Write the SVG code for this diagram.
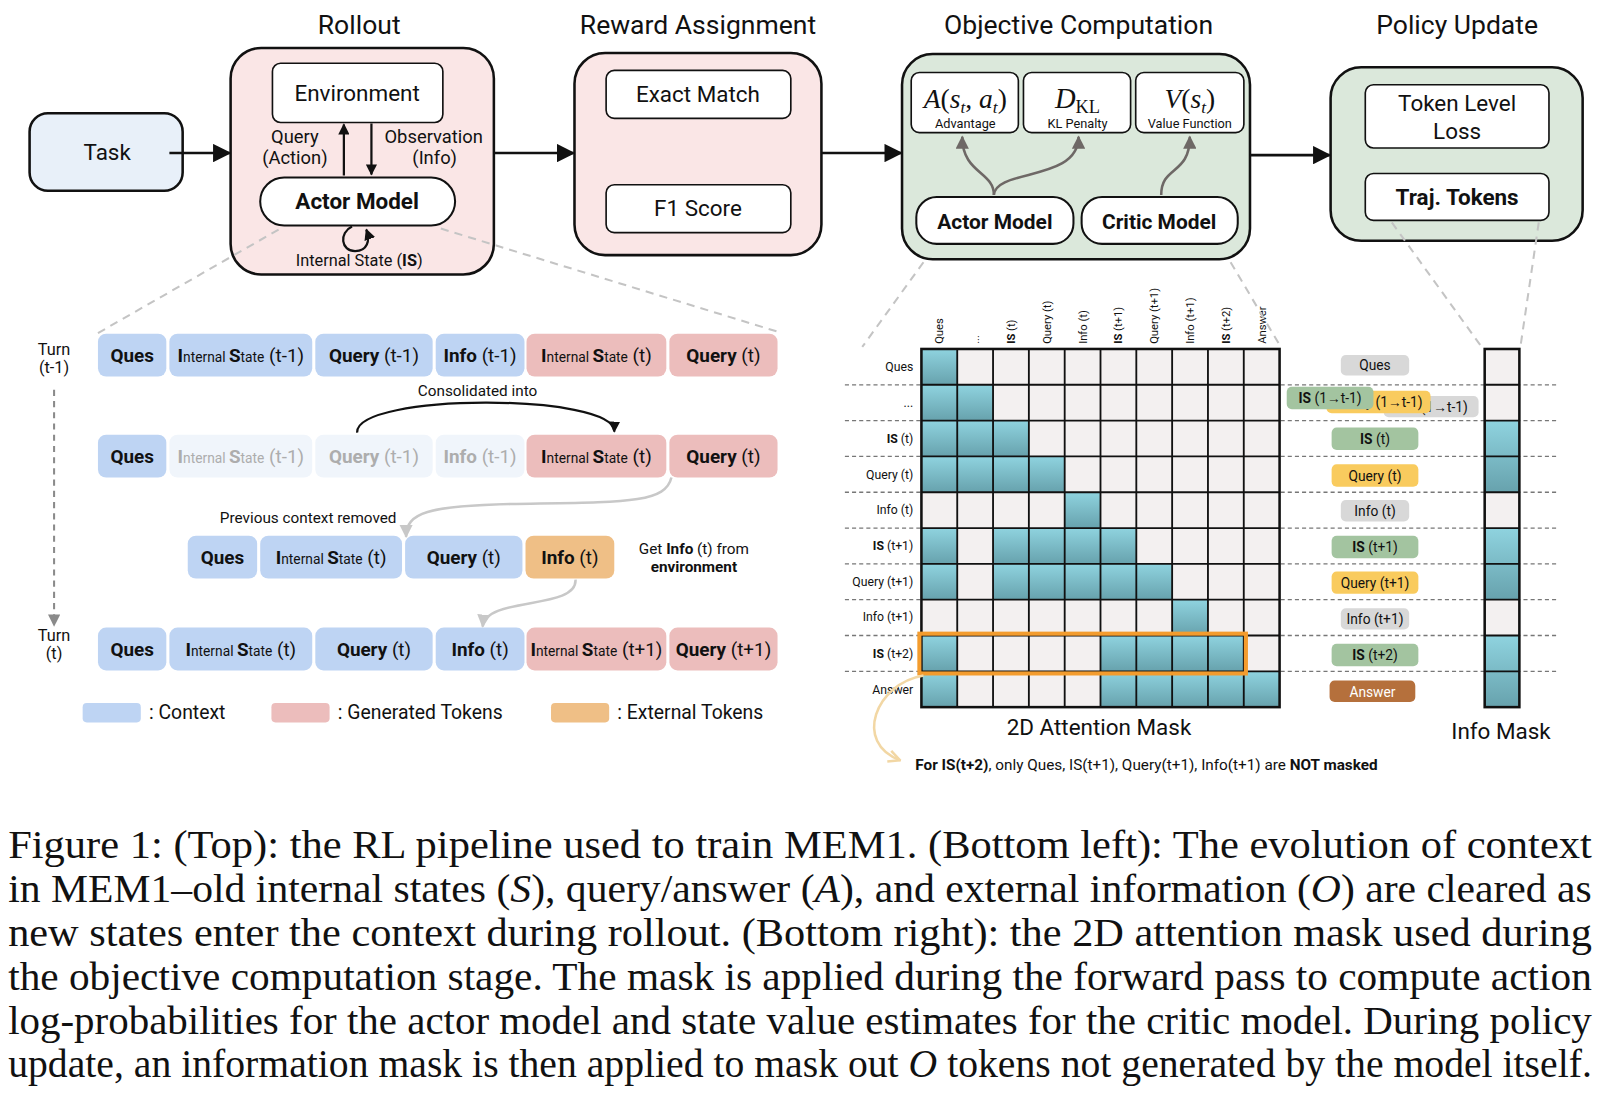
<svg xmlns="http://www.w3.org/2000/svg" width="1600" height="1096" viewBox="0 0 1600 1096">
<defs>
<style>
text{font-family:Roboto,"Liberation Sans",sans-serif;fill:#111}
.ttl{font-size:26px;text-anchor:middle}
.lbl{font-size:22px;text-anchor:middle}
.b{font-weight:bold}
.box{fill:#fff;stroke:#111;stroke-width:1.6}
.stage{stroke:#111;stroke-width:2.5}
.pink{fill:#fae6e6}
.green{fill:#dbe8db}
.ln{stroke:#111;stroke-width:2.5;fill:none}
.guide{stroke:#c4c4c4;stroke-width:2;stroke-dasharray:8 6;fill:none}
.math{font-family:"Liberation Serif","DejaVu Serif",serif;font-size:27px;text-anchor:middle}
.it{font-style:italic}
.sm13{font-size:12.5px;text-anchor:middle}
.tk{font-size:18.5px;text-anchor:middle}
.tks{font-size:13.5px}
.cb{fill:#bed4f3}
.cp{fill:#ecbdbc}
.co{fill:#efbf86}
.cf{fill:#f0f5fb}
.fade{fill:#adadad}
.note{font-size:15px}
.grey{stroke:#c8c8c8;stroke-width:2.5;fill:none}
.rl{font-size:12px;text-anchor:end}
.cl{font-size:11px}
.rowd{stroke:#777;stroke-width:1.3;stroke-dasharray:4 3}
.grid{stroke:#111;stroke-width:1.8;fill:none}
.pl{font-size:13.5px;text-anchor:middle}
.cap{font-family:"Liberation Serif","Times New Roman",serif;font-size:39px}
</style>
<linearGradient id="teal" x1="0" y1="0" x2="0" y2="1">
<stop offset="0" stop-color="#8fd3df"/>
<stop offset="1" stop-color="#67a2ad"/>
</linearGradient>
<marker id="ah" viewBox="0 0 10 10" refX="9" refY="5" markerWidth="18" markerHeight="18" markerUnits="userSpaceOnUse" orient="auto"><path d="M0,0 L10,5 L0,10 z" fill="#111"/></marker>
<marker id="ahs" viewBox="0 0 10 10" refX="9" refY="5" markerWidth="11" markerHeight="11" markerUnits="userSpaceOnUse" orient="auto"><path d="M0,0 L10,5 L0,10 z" fill="#111"/></marker>
<marker id="ahg" viewBox="0 0 10 10" refX="9" refY="5" markerWidth="13" markerHeight="13" markerUnits="userSpaceOnUse" orient="auto"><path d="M0,0 L10,5 L0,10 z" fill="#6e6866"/></marker>
<marker id="ahl" viewBox="0 0 10 10" refX="9" refY="5" markerWidth="13" markerHeight="13" markerUnits="userSpaceOnUse" orient="auto"><path d="M0,0 L10,5 L0,10 z" fill="#c8c8c8"/></marker>
<marker id="ahd" viewBox="0 0 10 10" refX="9" refY="5" markerWidth="12" markerHeight="12" markerUnits="userSpaceOnUse" orient="auto"><path d="M0,0 L10,5 L0,10 z" fill="#8a8a8a"/></marker>
<marker id="ahy" viewBox="0 0 10 10" refX="9" refY="5" markerWidth="14" markerHeight="14" markerUnits="userSpaceOnUse" orient="auto"><path d="M1,1 L9,5 L1,9" fill="none" stroke="#f2d7a4" stroke-width="1.8"/></marker>
</defs>
<rect width="1600" height="1096" fill="#fff"/>
<g transform="scale(1.0204)">

<!-- titles -->
<g id="titles">
<text class="ttl" x="352" y="33">Rollout</text>
<text class="ttl" x="684" y="33">Reward Assignment</text>
<text class="ttl" x="1057" y="33">Objective Computation</text>
<text class="ttl" x="1428" y="33">Policy Update</text>
</g>

<!-- top pipeline -->
<g id="task">
<rect x="29" y="111" width="150" height="76" rx="18" fill="#e8f0f9" class="stage"/>
<text class="lbl" x="105" y="157">Task</text>
</g>

<g id="rollout">
<rect x="226" y="47" width="258" height="222" rx="30" class="stage pink"/>
<rect x="267" y="62" width="167" height="58" rx="8" class="box"/>
<text class="lbl" x="350" y="99">Environment</text>
<text x="289" y="140" font-size="18" text-anchor="middle">Query</text>
<text x="289" y="161" font-size="18" text-anchor="middle">(Action)</text>
<text x="425" y="140" font-size="18" text-anchor="middle">Observation</text>
<text x="426" y="161" font-size="18" text-anchor="middle">(Info)</text>
<rect x="255" y="174" width="191" height="47" rx="23.5" fill="#fff" stroke="#111" stroke-width="2"/>
<text class="lbl b" x="350" y="205">Actor Model</text>
<text x="352" y="261" font-size="16" text-anchor="middle">Internal State (<tspan class="b">IS</tspan>)</text>
</g>

<g id="reward">
<rect x="563" y="52" width="242" height="198" rx="30" class="stage pink"/>
<rect x="594" y="69" width="181" height="47" rx="8" class="box"/>
<text class="lbl" x="684" y="100">Exact Match</text>
<rect x="594" y="181" width="181" height="47" rx="8" class="box"/>
<text class="lbl" x="684" y="212">F1 Score</text>
</g>

<g id="objective">
<rect x="884" y="53" width="341" height="201" rx="30" class="stage green"/>
<rect x="893" y="71" width="105" height="59" rx="8" class="box"/>
<rect x="1003" y="71" width="105" height="59" rx="8" class="box"/>
<rect x="1113" y="71" width="106" height="59" rx="8" class="box"/>
<text class="math" x="946" y="106"><tspan class="it">A</tspan>(<tspan class="it">s</tspan><tspan class="it" font-size="17" dy="5">t</tspan><tspan dy="-5">, </tspan><tspan class="it">a</tspan><tspan class="it" font-size="17" dy="5">t</tspan><tspan dy="-5">)</tspan></text>
<text class="math" x="1056" y="106"><tspan class="it" font-size="28">D</tspan><tspan font-size="18" dy="5">KL</tspan></text>
<text class="math" x="1166" y="106"><tspan class="it">V</tspan>(<tspan class="it">s</tspan><tspan class="it" font-size="17" dy="5">t</tspan><tspan dy="-5">)</tspan></text>
<text class="sm13" x="946" y="125">Advantage</text>
<text class="sm13" x="1056" y="125">KL Penalty</text>
<text class="sm13" x="1166" y="125">Value Function</text>
<rect x="898" y="193" width="154" height="46" rx="20" fill="#fff" stroke="#111" stroke-width="2"/>
<text x="975" y="224" font-size="20.5" text-anchor="middle" class="b">Actor Model</text>
<rect x="1060" y="193" width="153" height="46" rx="20" fill="#fff" stroke="#111" stroke-width="2"/>
<text x="1136" y="224" font-size="20.5" text-anchor="middle" class="b">Critic Model</text>
</g>

<g id="policy">
<rect x="1304" y="66" width="247" height="170" rx="30" class="stage green"/>
<rect x="1338" y="83" width="180" height="62" rx="8" class="box"/>
<text class="lbl" x="1428" y="109">Token Level</text>
<text class="lbl" x="1428" y="136">Loss</text>
<rect x="1338" y="170" width="180" height="46" rx="8" class="box"/>
<text class="lbl b" x="1428" y="201">Traj. Tokens</text>
</g>

<!-- bottom left: context evolution -->
<g id="turn-labels">
<text x="53" y="348" font-size="16" text-anchor="middle">Turn</text>
<text x="53" y="366" font-size="16" text-anchor="middle">(t-1)</text>
<text x="53" y="628" font-size="16" text-anchor="middle">Turn</text>
<text x="53" y="646" font-size="16" text-anchor="middle">(t)</text>
</g>

<g id="row1">
<rect x="96" y="327" width="67" height="42" rx="8" class="cb"/>
<rect x="166" y="327" width="140" height="42" rx="8" class="cb"/>
<rect x="309" y="327" width="115" height="42" rx="8" class="cb"/>
<rect x="427" y="327" width="87" height="42" rx="8" class="cb"/>
<rect x="516" y="327" width="137" height="42" rx="8" class="cp"/>
<rect x="656" y="327" width="106" height="42" rx="8" class="cp"/>
<text class="tk b" x="129.5" y="355">Ques</text>
<text class="tk" x="236" y="355"><tspan class="b">I</tspan><tspan class="tks">nternal </tspan><tspan class="b">S</tspan><tspan class="tks">tate</tspan> (t-1)</text>
<text class="tk" x="366.5" y="355"><tspan class="b">Query</tspan> (t-1)</text>
<text class="tk" x="470.5" y="355"><tspan class="b">Info</tspan> (t-1)</text>
<text class="tk" x="584.5" y="355"><tspan class="b">I</tspan><tspan class="tks">nternal </tspan><tspan class="b">S</tspan><tspan class="tks">tate</tspan> (t)</text>
<text class="tk" x="709" y="355"><tspan class="b">Query</tspan> (t)</text>
</g>

<g id="row2">
<text class="note" x="468" y="388" text-anchor="middle">Consolidated into</text>
<rect x="96" y="426" width="67" height="42" rx="8" class="cb"/>
<rect x="166" y="426" width="140" height="42" rx="8" class="cf"/>
<rect x="309" y="426" width="115" height="42" rx="8" class="cf"/>
<rect x="427" y="426" width="87" height="42" rx="8" class="cf"/>
<rect x="516" y="426" width="137" height="42" rx="8" class="cp"/>
<rect x="656" y="426" width="106" height="42" rx="8" class="cp"/>
<text class="tk b" x="129.5" y="454">Ques</text>
<text class="tk fade" x="236" y="454"><tspan class="b fade">I</tspan><tspan class="tks fade">nternal </tspan><tspan class="b fade">S</tspan><tspan class="tks fade">tate</tspan> (t-1)</text>
<text class="tk fade" x="366.5" y="454"><tspan class="b fade">Query</tspan> (t-1)</text>
<text class="tk fade" x="470.5" y="454"><tspan class="b fade">Info</tspan> (t-1)</text>
<text class="tk" x="584.5" y="454"><tspan class="b">I</tspan><tspan class="tks">nternal </tspan><tspan class="b">S</tspan><tspan class="tks">tate</tspan> (t)</text>
<text class="tk" x="709" y="454"><tspan class="b">Query</tspan> (t)</text>
</g>

<g id="row3">
<text class="note" x="302" y="513" text-anchor="middle">Previous context removed</text>
<rect x="184" y="525" width="68" height="42" rx="8" class="cb"/>
<rect x="255" y="525" width="139" height="42" rx="8" class="cb"/>
<rect x="397" y="525" width="115" height="42" rx="8" class="cb"/>
<rect x="515" y="525" width="87" height="42" rx="8" class="co"/>
<text class="tk b" x="218" y="553">Ques</text>
<text class="tk" x="324.5" y="553"><tspan class="b">I</tspan><tspan class="tks">nternal </tspan><tspan class="b">S</tspan><tspan class="tks">tate</tspan> (t)</text>
<text class="tk" x="454.5" y="553"><tspan class="b">Query</tspan> (t)</text>
<text class="tk" x="558.5" y="553"><tspan class="b">Info</tspan> (t)</text>
<text class="note" x="680" y="543" text-anchor="middle">Get <tspan class="b">Info</tspan> (t) from</text>
<text class="note b" x="680" y="561" text-anchor="middle">environment</text>
</g>

<g id="row4">
<rect x="96" y="615" width="67" height="42" rx="8" class="cb"/>
<rect x="166" y="615" width="140" height="42" rx="8" class="cb"/>
<rect x="309" y="615" width="115" height="42" rx="8" class="cb"/>
<rect x="427" y="615" width="87" height="42" rx="8" class="cb"/>
<rect x="516" y="615" width="137" height="42" rx="8" class="cp"/>
<rect x="656" y="615" width="106" height="42" rx="8" class="cp"/>
<text class="tk b" x="129.5" y="643">Ques</text>
<text class="tk" x="236" y="643"><tspan class="b">I</tspan><tspan class="tks">nternal </tspan><tspan class="b">S</tspan><tspan class="tks">tate</tspan> (t)</text>
<text class="tk" x="366.5" y="643"><tspan class="b">Query</tspan> (t)</text>
<text class="tk" x="470.5" y="643"><tspan class="b">Info</tspan> (t)</text>
<text class="tk" x="584.5" y="643"><tspan class="b">I</tspan><tspan class="tks">nternal </tspan><tspan class="b">S</tspan><tspan class="tks">tate</tspan> (t+1)</text>
<text class="tk" x="709" y="643"><tspan class="b">Query</tspan> (t+1)</text>
</g>

<g id="legend">
<rect x="81" y="689" width="57" height="19" rx="4" class="cb"/>
<text x="146" y="705" font-size="19">: Context</text>
<rect x="266" y="689" width="57" height="19" rx="4" class="cp"/>
<text x="331" y="705" font-size="19">: Generated Tokens</text>
<rect x="540" y="689" width="57" height="19" rx="4" class="co"/>
<text x="605" y="705" font-size="19">: External Tokens</text>
</g>

<!-- bottom right: attention mask -->
<g id="row-dividers">
<line class="rowd" x1="828" y1="377.1" x2="1527" y2="377.1"/>
<line class="rowd" x1="828" y1="412.2" x2="1527" y2="412.2"/>
<line class="rowd" x1="828" y1="447.3" x2="1527" y2="447.3"/>
<line class="rowd" x1="828" y1="482.4" x2="1527" y2="482.4"/>
<line class="rowd" x1="828" y1="517.5" x2="1527" y2="517.5"/>
<line class="rowd" x1="828" y1="552.6" x2="1527" y2="552.6"/>
<line class="rowd" x1="828" y1="587.7" x2="1527" y2="587.7"/>
<line class="rowd" x1="828" y1="622.8" x2="1527" y2="622.8"/>
<line class="rowd" x1="828" y1="657.9" x2="1527" y2="657.9"/>
</g>

<g id="attention-mask">
<rect x="903" y="342" width="351" height="351" fill="#f3f0f0"/>
<g fill="url(#teal)">
<rect x="903" y="342" width="35.1" height="35.1"/>
<rect x="903" y="377.1" width="70.2" height="35.1"/>
<rect x="903" y="412.2" width="105.3" height="35.1"/>
<rect x="903" y="447.3" width="140.4" height="35.1"/>
<rect x="1043.4" y="482.4" width="35.1" height="35.1"/>
<rect x="903" y="517.5" width="35.1" height="35.1"/>
<rect x="973.2" y="517.5" width="140.4" height="35.1"/>
<rect x="903" y="552.6" width="35.1" height="35.1"/>
<rect x="973.2" y="552.6" width="175.5" height="35.1"/>
<rect x="1148.7" y="587.7" width="35.1" height="35.1"/>
<rect x="903" y="622.8" width="35.1" height="35.1"/>
<rect x="1078.5" y="622.8" width="140.4" height="35.1"/>
<rect x="903" y="657.9" width="35.1" height="35.1"/>
<rect x="1078.5" y="657.9" width="175.5" height="35.1"/>
</g>
<path class="grid" d="M938.1 342V693M973.2 342V693M1008.3 342V693M1043.4 342V693M1078.5 342V693M1113.6 342V693M1148.7 342V693M1183.8 342V693M1218.9 342V693M903 377.1H1254M903 412.2H1254M903 447.3H1254M903 482.4H1254M903 517.5H1254M903 552.6H1254M903 587.7H1254M903 622.8H1254M903 657.9H1254"/>
<rect x="903" y="342" width="351" height="351" fill="none" stroke="#111" stroke-width="2.5"/>
<rect x="901" y="621" width="320" height="39" fill="none" stroke="#f39c2e" stroke-width="4"/>
<g class="cl">
<text transform="translate(924.5,337) rotate(-90)">Ques</text>
<text transform="translate(959.6,337) rotate(-90)">...</text>
<text transform="translate(994.7,337) rotate(-90)"><tspan class="b">IS</tspan> (t)</text>
<text transform="translate(1029.8,337) rotate(-90)">Query (t)</text>
<text transform="translate(1064.9,337) rotate(-90)">Info (t)</text>
<text transform="translate(1100,337) rotate(-90)"><tspan class="b">IS</tspan> (t+1)</text>
<text transform="translate(1135.1,337) rotate(-90)">Query (t+1)</text>
<text transform="translate(1170.2,337) rotate(-90)">Info (t+1)</text>
<text transform="translate(1205.3,337) rotate(-90)"><tspan class="b">IS</tspan> (t+2)</text>
<text transform="translate(1240.4,337) rotate(-90)">Answer</text>
</g>
<text class="rl" x="895" y="364">Ques</text>
<text class="rl" x="895" y="399">...</text>
<text class="rl" x="895" y="434"><tspan class="b">IS</tspan> (t)</text>
<text class="rl" x="895" y="469">Query (t)</text>
<text class="rl" x="895" y="504">Info (t)</text>
<text class="rl" x="895" y="539"><tspan class="b">IS</tspan> (t+1)</text>
<text class="rl" x="895" y="574">Query (t+1)</text>
<text class="rl" x="895" y="609">Info (t+1)</text>
<text class="rl" x="895" y="645"><tspan class="b">IS</tspan> (t+2)</text>
<text class="rl" x="895" y="680">Answer</text>
<text class="lbl" x="1077" y="720">2D Attention Mask</text>
<text class="note" x="897" y="755"><tspan class="b">For IS(t+2)</tspan>, only Ques, IS(t+1), Query(t+1), Info(t+1) are <tspan class="b">NOT masked</tspan></text>
</g>

<g id="token-labels">
<rect x="1314" y="348" width="67" height="20" rx="5" fill="#d8d8d8"/>
<text class="pl" x="1347.5" y="363">Ques</text>
<rect x="1356" y="388" width="93" height="21" rx="5" fill="#d8d8d8"/>
<text class="pl" x="1402" y="404">Info (1→t-1)</text>
<rect x="1300" y="383" width="102" height="22" rx="5" fill="#f9cb5e"/>
<text class="pl" x="1352" y="399">Query (1→t-1)</text>
<rect x="1261" y="379" width="85" height="22" rx="5" fill="#a3c4a0"/>
<text class="pl" x="1303.5" y="395"><tspan class="b">IS</tspan> (1→t-1)</text>
<rect x="1305" y="419" width="85" height="22" rx="5" fill="#a3c4a0"/>
<text class="pl" x="1347.5" y="435"><tspan class="b">IS</tspan> (t)</text>
<rect x="1305" y="455" width="85" height="22" rx="5" fill="#f9cb5e"/>
<text class="pl" x="1347.5" y="471">Query (t)</text>
<rect x="1314" y="490" width="67" height="21" rx="5" fill="#d8d8d8"/>
<text class="pl" x="1347.5" y="506">Info (t)</text>
<rect x="1305" y="525" width="85" height="22" rx="5" fill="#a3c4a0"/>
<text class="pl" x="1347.5" y="541"><tspan class="b">IS</tspan> (t+1)</text>
<rect x="1305" y="560" width="85" height="22" rx="5" fill="#f9cb5e"/>
<text class="pl" x="1347.5" y="576">Query (t+1)</text>
<rect x="1314" y="596" width="67" height="21" rx="5" fill="#d8d8d8"/>
<text class="pl" x="1347.5" y="612">Info (t+1)</text>
<rect x="1305" y="631" width="85" height="22" rx="5" fill="#a3c4a0"/>
<text class="pl" x="1347.5" y="647"><tspan class="b">IS</tspan> (t+2)</text>
<rect x="1303" y="667" width="84" height="21" rx="5" fill="#b5703c"/>
<text class="pl" x="1345" y="683" style="fill:#fff">Answer</text>
</g>

<g id="info-mask">
<rect x="1455" y="342" width="34" height="351" fill="#f3f0f0"/>
<g fill="url(#teal)">
<rect x="1455" y="412.2" width="34" height="70.2"/>
<rect x="1455" y="517.5" width="34" height="70.2"/>
<rect x="1455" y="622.8" width="34" height="70.2"/>
</g>
<path class="grid" d="M1455 377.1H1489M1455 412.2H1489M1455 447.3H1489M1455 482.4H1489M1455 517.5H1489M1455 552.6H1489M1455 587.7H1489M1455 622.8H1489M1455 657.9H1489"/>
<rect x="1455" y="342" width="34" height="351" fill="none" stroke="#111" stroke-width="2.5"/>
<text class="lbl" x="1471" y="724">Info Mask</text>
</g>

<!-- connectors (drawn above nodes) -->
<g id="connectors">
<line class="ln" x1="166" y1="150" x2="225" y2="150" marker-end="url(#ah)"/>
<line class="ln" x1="484" y1="150" x2="562" y2="150" marker-end="url(#ah)"/>
<line class="ln" x1="805" y1="150" x2="883" y2="150" marker-end="url(#ah)"/>
<line class="ln" x1="1225" y1="152" x2="1303" y2="152" marker-end="url(#ah)"/>
<line x1="337" y1="172" x2="337" y2="122" stroke="#111" stroke-width="2.2" marker-end="url(#ahs)"/>
<line x1="364" y1="121" x2="364" y2="171" stroke="#111" stroke-width="2.2" marker-end="url(#ahs)"/>
<path d="M345 222 C332 228 334 246 348 246 C360 246 363 236 359 225" stroke="#111" stroke-width="2.2" fill="none" marker-end="url(#ahs)"/>
<path d="M974 191 C974 168 943 170 943 134" stroke="#6e6866" stroke-width="2.5" fill="none" marker-end="url(#ahg)"/>
<path d="M974 191 C976 165 1057 178 1057 134" stroke="#6e6866" stroke-width="2.5" fill="none" marker-end="url(#ahg)"/>
<path d="M1138 191 C1138 162 1166 172 1166 134" stroke="#6e6866" stroke-width="2.5" fill="none" marker-end="url(#ahg)"/>
<line class="guide" x1="273" y1="225" x2="95" y2="327"/>
<line class="guide" x1="432" y1="224" x2="762" y2="325"/>
<line class="guide" x1="905" y1="257" x2="845" y2="340"/>
<line class="guide" x1="1206" y1="257" x2="1254" y2="338"/>
<line class="guide" x1="1364" y1="218" x2="1452" y2="340"/>
<line class="guide" x1="1508" y1="218" x2="1490" y2="340"/>
<path d="M350 424 C348 385 603 385 602 423" stroke="#111" stroke-width="2.2" fill="none" marker-end="url(#ahs)"/>
<path d="M658 468 C652 494 610 492 500 494 C420 496 398 502 398 526" class="grey" marker-end="url(#ahl)"/>
<path d="M564 568 C566 598 476 584 473 614" class="grey" marker-end="url(#ahl)"/>
<line x1="53" y1="382" x2="53" y2="613" stroke="#8a8a8a" stroke-width="2" stroke-dasharray="6 5" marker-end="url(#ahd)"/>
<path d="M905 662 C858 670 836 728 882 745" stroke="#f2d7a4" stroke-width="2.5" fill="none" marker-end="url(#ahy)"/>
</g>

<!-- caption -->
<g id="caption">
<text class="cap" x="8" y="841" textLength="1552" lengthAdjust="spacingAndGlyphs">Figure 1: (Top): the RL pipeline used to train MEM1. (Bottom left): The evolution of context</text>
<text class="cap" x="8" y="884" textLength="1552" lengthAdjust="spacingAndGlyphs">in MEM1–old internal states (<tspan class="it">S</tspan>), query/answer (<tspan class="it">A</tspan>), and external information (<tspan class="it">O</tspan>) are cleared as</text>
<text class="cap" x="8" y="927" textLength="1552" lengthAdjust="spacingAndGlyphs">new states enter the context during rollout. (Bottom right): the 2D attention mask used during</text>
<text class="cap" x="8" y="970" textLength="1552" lengthAdjust="spacingAndGlyphs">the objective computation stage. The mask is applied during the forward pass to compute action</text>
<text class="cap" x="8" y="1013" textLength="1552" lengthAdjust="spacingAndGlyphs">log-probabilities for the actor model and state value estimates for the critic model. During policy</text>
<text class="cap" x="8" y="1055" textLength="1552" lengthAdjust="spacingAndGlyphs">update, an information mask is then applied to mask out <tspan class="it">O</tspan> tokens not generated by the model itself.</text>
</g>

</g>
</svg>
